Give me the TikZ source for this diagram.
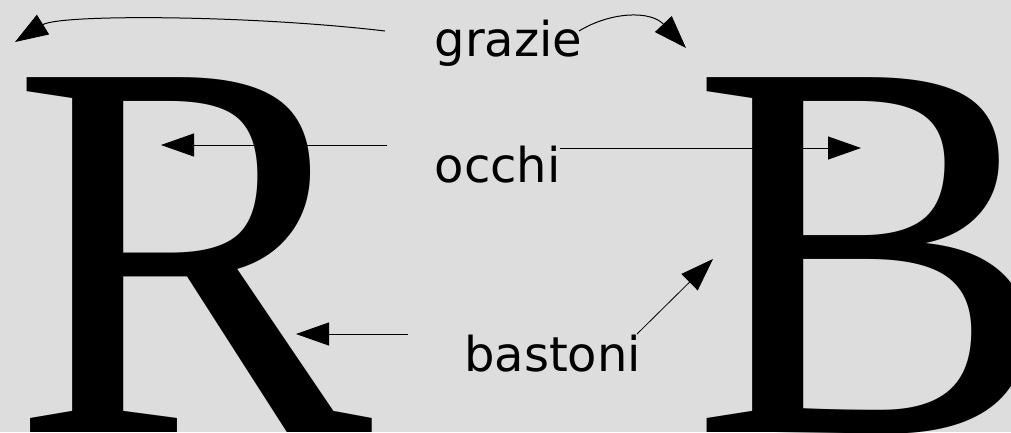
\documentclass[tikz,border=0pt]{standalone}
\usepackage{fontspec}
\usetikzlibrary{arrows.meta}
\newfontfamily\labelfont{DejaVu Sans}
\newfontfamily\bigserif{Liberation Serif}
\definecolor{bg}{RGB}{221,221,221}
\tikzset{
  lbl/.style={anchor=base west, inner sep=0pt, font=\labelfont\fontsize{48}{50}\selectfont},
  bigletter/.style={anchor=base west, inner sep=0pt, font=\bigserif\fontsize{542}{542}\selectfont},
  ptr/.style={line width=1pt, -{Triangle[length=33pt,width=23pt]}},
  thinptr/.style={line width=0.8pt, -{Triangle[length=33pt,width=23pt]}}
}
\begin{document}
\begin{tikzpicture}[x=1pt,y=-1pt]
\useasboundingbox (0,0) rectangle (1011,432);
\fill[bg] (0,0) rectangle (1011,432);
\clip (0,0) rectangle (1011,432);
% big letters
\node[bigletter] (R) at (11,432) {R};
\node[bigletter] (B) at (691,432) {B};
% labels
\node[lbl] (grazie) at (434.5,56) {grazie};
\node[lbl] (occhi) at (434.5,182) {occhi};
\node[lbl] (bastoni) at (464,371) {bastoni};
% connector anchors
\coordinate (g1) at (385,31);
\coordinate (g1t) at (15,42);
\coordinate (g2) at (579,31);
\coordinate (g2t) at (686,48);
\coordinate (o1) at (387,145);
\coordinate (o1t) at (161,145);
\coordinate (o2) at (560,148);
\coordinate (o2t) at (861,148);
\coordinate (b1) at (408,334);
\coordinate (b1t) at (296,334);
\coordinate (b2) at (637,334);
\coordinate (b2t) at (713,259);
% arrows
\draw[ptr] (g1) .. controls (250,15) and (60,14) .. (g1t);
\draw[ptr] (g2) .. controls (610,12) and (650,10) .. (g2t);
\draw[ptr] (o1) -- (o1t);
\draw[ptr] (o2) -- (o2t);
\draw[ptr] (b1) -- (b1t);
\draw[thinptr] (b2) -- (b2t);
\end{tikzpicture}
\end{document}
